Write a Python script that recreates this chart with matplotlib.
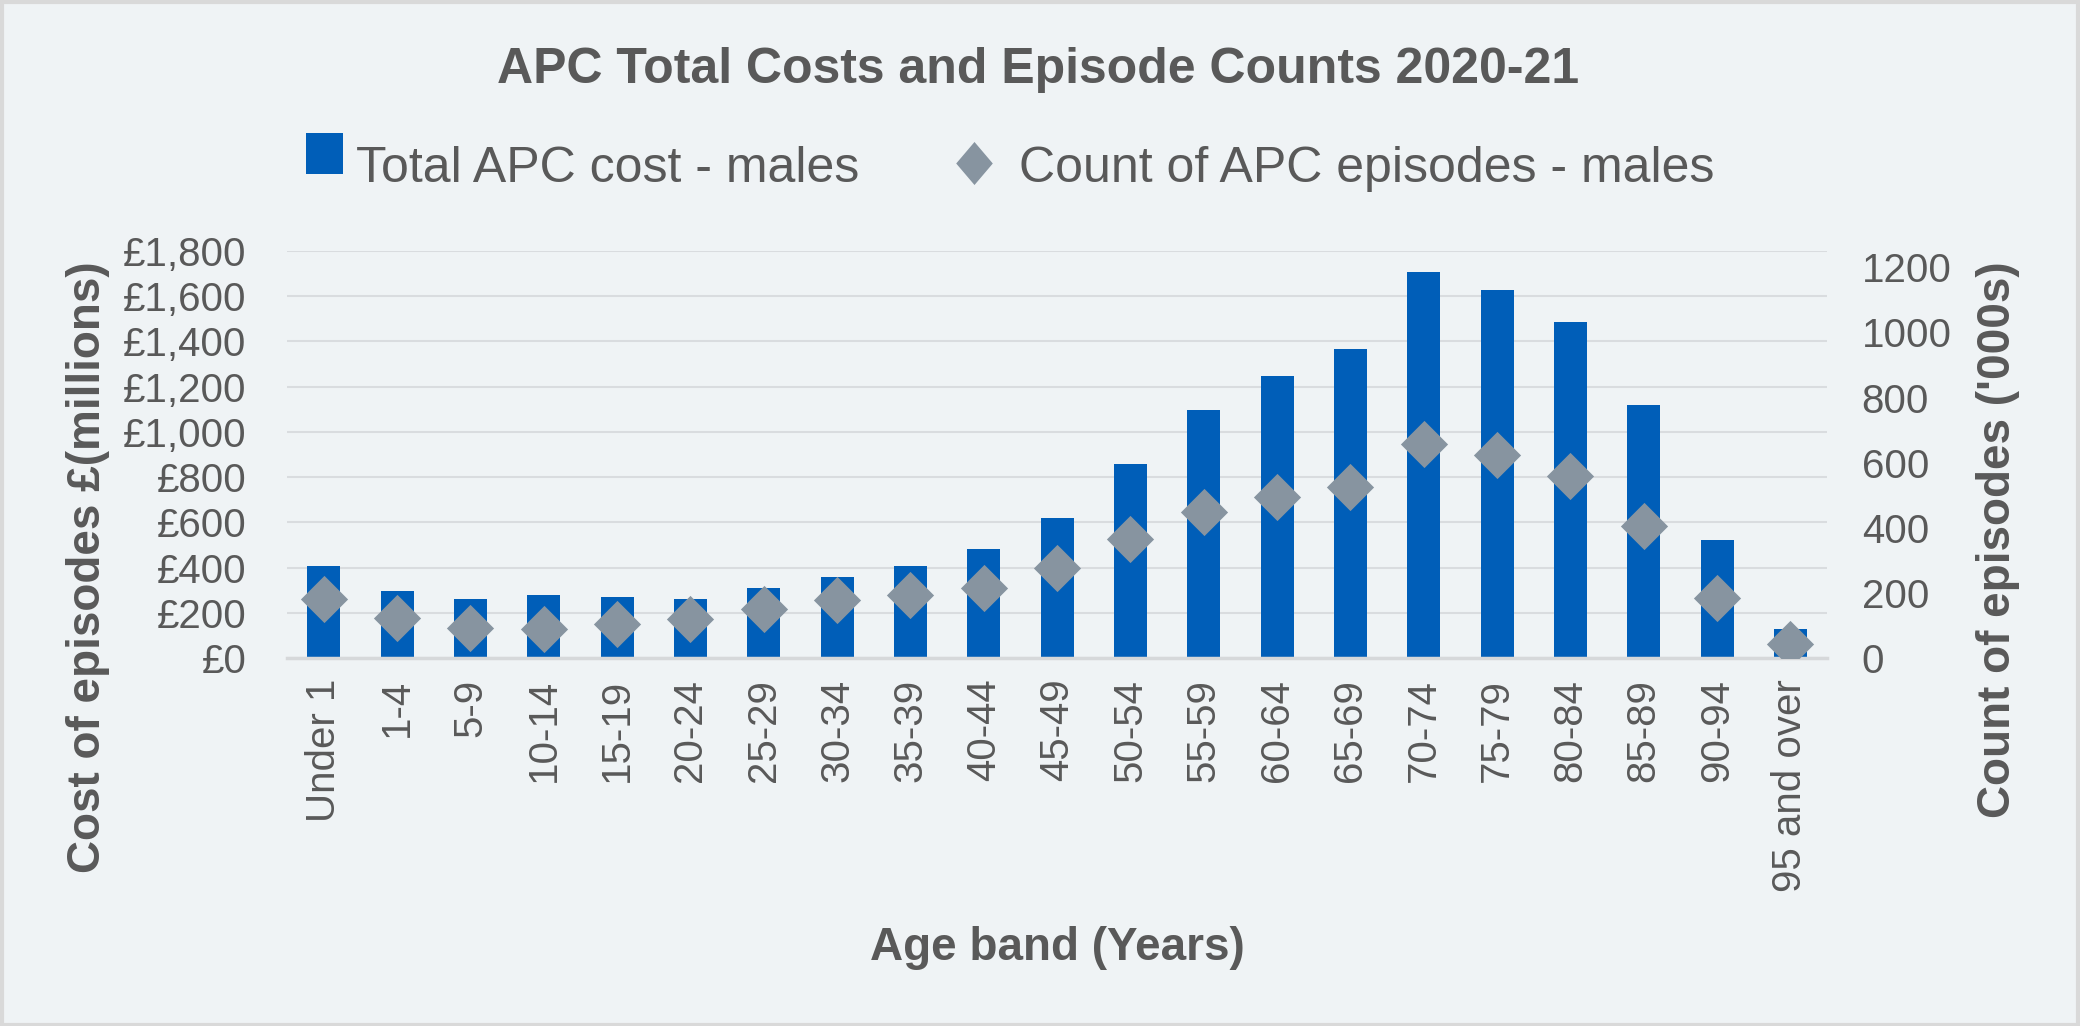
import matplotlib
matplotlib.use('Agg')
import matplotlib.pyplot as plt
from matplotlib.lines import Line2D
from matplotlib.patches import Patch, Rectangle
from matplotlib.legend_handler import HandlerPatch
from matplotlib.ticker import FuncFormatter

plt.rcParams['font.family'] = ['Liberation Sans', 'DejaVu Sans']

# data
age_bands = ['Under 1', '1-4', '5-9', '10-14', '15-19', '20-24', '25-29', '30-34',
             '35-39', '40-44', '45-49', '50-54', '55-59', '60-64', '65-69', '70-74',
             '75-79', '80-84', '85-89', '90-94', '95 and over']
cost_males = [409, 295, 260, 277, 269, 260, 308, 357, 406, 481, 621, 860, 1099,
              1245, 1365, 1706, 1626, 1484, 1121, 524, 127]          # £ millions
episodes_males = [182, 124, 93, 90, 103, 121, 149, 177, 194, 216, 276, 367, 447,
                  493, 524, 658, 622, 558, 404, 183, 44]              # '000s

text_col = '#595959'
bar_col = '#005EB8'
dia_col = '#8794a0'
bg_col = '#eff3f5'

fig = plt.figure(figsize=(20.8, 10.26), dpi=100, facecolor=bg_col)
ax = fig.add_axes([287/2080, 1 - 658/1026, 1540/2080, 407/1026])
ax.set_facecolor(bg_col)
ax2 = ax.twinx()

x = list(range(len(age_bands)))
ax.bar(x, cost_males, width=0.45, color=bar_col, zorder=2)

dia = [(0, 1), (1, 0), (0, -1), (-1, 0)]
ax2.plot(x, episodes_males, linestyle='none', marker=dia, markersize=34,
         markeredgewidth=0, color=dia_col, zorder=3)

ax.set_xlim(-0.5, len(age_bands) - 0.5)
ax.set_ylim(0, 1800)
ax.set_yticks(range(0, 1801, 200))
ax.yaxis.set_major_formatter(FuncFormatter(lambda v, p: '£{:,.0f}'.format(v)))
ax2.set_ylim(0, 1250)
ax2.set_yticks(range(0, 1201, 200))

ax.grid(axis='y', color='#d9dcdf', linewidth=1.5, zorder=0)
ax.set_axisbelow(True)
for a in (ax, ax2):
    for s in a.spines.values():
        s.set_visible(False)
ax.spines['bottom'].set_visible(True)
ax.spines['bottom'].set_color('#d6d8da')
ax.spines['bottom'].set_linewidth(2.5)

ax.set_xticks(x)
ax.set_xticklabels(age_bands, rotation=90)
ax.tick_params(axis='x', length=0, pad=15, labelsize=29, labelcolor=text_col)
ax.tick_params(axis='y', length=0, pad=29, labelsize=29, labelcolor=text_col)
ax2.tick_params(axis='y', length=0, pad=25, labelsize=29, labelcolor=text_col)

fig.text(88/2080, 1 - 567/1026, 'Cost of episodes £(millions)', rotation=90,
         ha='center', va='center', fontsize=33, fontweight='bold', color=text_col)
fig.text(1998/2080, 1 - 540/1026, "Count of episodes ('000s)", rotation=90,
         ha='center', va='center', fontsize=33, fontweight='bold', color=text_col)
fig.text(1057/2080, 1 - 948/1026, 'Age band (Years)', ha='center', va='center',
         fontsize=33, fontweight='bold', color=text_col)
fig.text(1038/2080, 1 - 70/1026, 'APC Total Costs and Episode Counts 2020-21',
         ha='center', va='center', fontsize=36, fontweight='bold', color=text_col)


# legend bar swatch: narrow, right-aligned in its box and raised a little
def bar_swatch(legend, orig_handle, xdescent, ydescent, width, height, fontsize):
    w = 26.6
    h = 29.5
    return Rectangle((width - w - xdescent, -ydescent + (height - h) / 2 + 8), w, h)


handles = [Patch(facecolor=bar_col, edgecolor='none'),
           Line2D([], [], linestyle='none', marker=[(0, 1), (0.85, 0), (0, -1), (-0.85, 0)],
                  markersize=31, markeredgewidth=0, color=dia_col)]
leg = fig.legend(handles, ['Total APC cost - males', 'Count of APC episodes - males'],
                 loc='center', bbox_to_anchor=(997/2080, 1 - 168/1026), ncol=2,
                 frameon=False, fontsize=36, handlelength=1.28, handleheight=0.85,
                 handletextpad=0.26, columnspacing=1.66,
                 handler_map={Patch: HandlerPatch(patch_func=bar_swatch)})
for t in leg.get_texts():
    t.set_color(text_col)

fig.patches.append(Rectangle((0.001, 0.001), 0.998, 0.997, transform=fig.transFigure,
                             fill=False, edgecolor='#d9d9d9', linewidth=3))

plt.savefig('out.png', dpi=100, facecolor=bg_col)
plt.close('all')
